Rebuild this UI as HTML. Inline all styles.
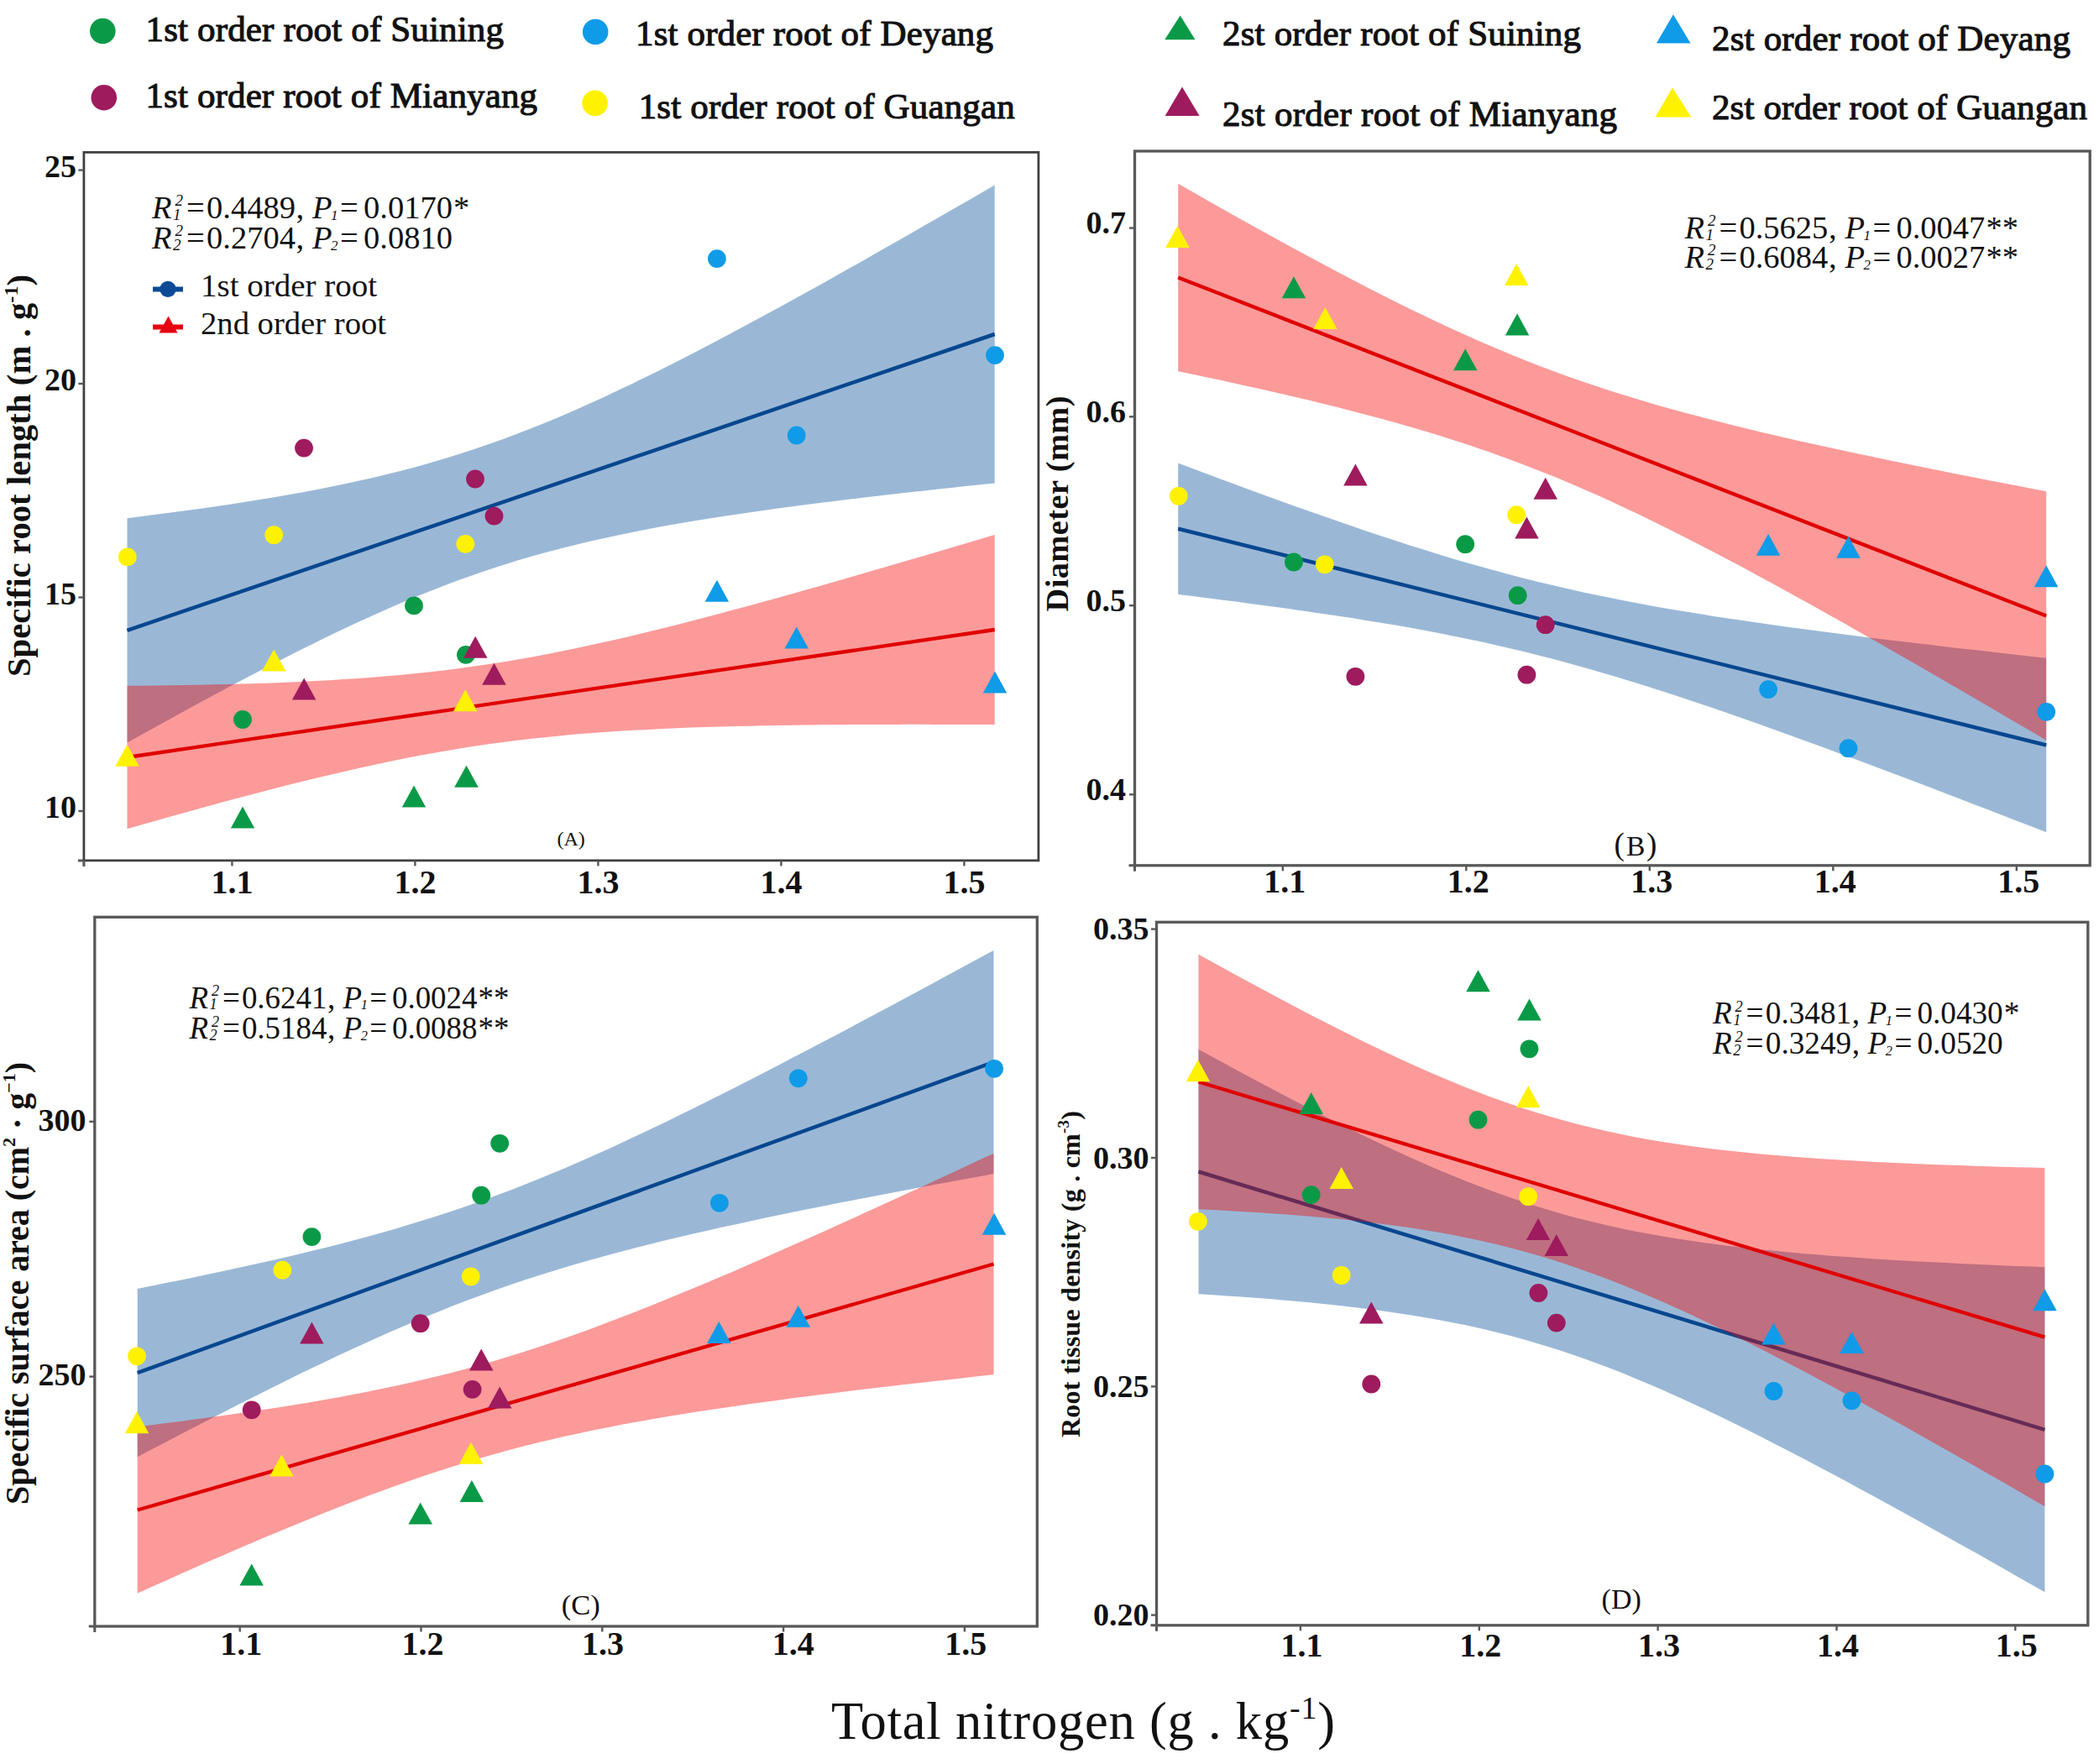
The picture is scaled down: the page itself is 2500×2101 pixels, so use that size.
<!DOCTYPE html>
<html lang="en"><head><meta charset="utf-8"><title>Root traits vs total nitrogen</title>
<style>html,body{margin:0;padding:0;background:#fff}svg{display:block}text{font-family:"Liberation Serif", "DejaVu Serif", serif;fill:#111}</style></head><body>
<svg width="2500" height="2101" viewBox="0 0 2500 2101">
<rect width="2500" height="2101" fill="#fff"/>
<g id="panelA">
<path d="M151.5,617.2 L168.7,615.0 L185.9,612.8 L203.2,610.6 L220.4,608.3 L237.6,605.9 L254.8,603.4 L272.0,600.9 L289.3,598.2 L306.5,595.5 L323.7,592.7 L340.9,589.7 L358.1,586.7 L375.4,583.4 L392.6,580.1 L409.8,576.5 L427.0,572.8 L444.2,568.9 L461.5,564.8 L478.7,560.5 L495.9,555.9 L513.1,551.1 L530.3,546.0 L547.6,540.6 L564.8,535.0 L582.0,529.1 L599.2,523.0 L616.4,516.5 L633.7,509.8 L650.9,502.9 L668.1,495.7 L685.3,488.2 L702.5,480.6 L719.8,472.7 L737.0,464.6 L754.2,456.4 L771.4,448.0 L788.6,439.4 L805.9,430.8 L823.1,421.9 L840.3,413.0 L857.5,404.0 L874.7,394.8 L892.0,385.6 L909.2,376.3 L926.4,366.9 L943.6,357.4 L960.8,347.9 L978.1,338.4 L995.3,328.7 L1012.5,319.1 L1029.7,309.4 L1046.9,299.6 L1064.2,289.8 L1081.4,280.0 L1098.6,270.1 L1115.8,260.2 L1133.0,250.3 L1150.3,240.4 L1167.5,230.4 L1184.7,220.4 L1184.7,575.6 L1167.5,577.3 L1150.3,579.1 L1133.0,581.0 L1115.8,582.8 L1098.6,584.7 L1081.4,586.6 L1064.2,588.5 L1046.9,590.5 L1029.7,592.5 L1012.5,594.6 L995.3,596.7 L978.1,598.8 L960.8,601.0 L943.6,603.2 L926.4,605.6 L909.2,607.9 L892.0,610.4 L874.7,612.9 L857.5,615.5 L840.3,618.3 L823.1,621.1 L805.9,624.0 L788.6,627.1 L771.4,630.3 L754.2,633.7 L737.0,637.2 L719.8,640.9 L702.5,644.8 L685.3,648.9 L668.1,653.2 L650.9,657.8 L633.7,662.6 L616.4,667.6 L599.2,673.0 L582.0,678.6 L564.8,684.4 L547.6,690.6 L530.3,697.0 L513.1,703.7 L495.9,710.6 L478.7,717.8 L461.5,725.3 L444.2,732.9 L427.0,740.8 L409.8,748.8 L392.6,757.0 L375.4,765.4 L358.1,774.0 L340.9,782.7 L323.7,791.5 L306.5,800.4 L289.3,809.5 L272.0,818.6 L254.8,827.8 L237.6,837.1 L220.4,846.5 L203.2,855.9 L185.9,865.5 L168.7,875.0 L151.5,884.6Z" fill="#9ab8d6" fill-opacity="1.0"/>
<line x1="151.5" y1="750.9" x2="1184.7" y2="398.0" stroke="#08478f" stroke-width="4.5"/>
<path d="M151.5,816.8 L168.7,816.7 L185.9,816.5 L203.2,816.3 L220.4,816.0 L237.6,815.7 L254.8,815.3 L272.0,814.9 L289.3,814.5 L306.5,813.9 L323.7,813.4 L340.9,812.7 L358.1,811.9 L375.4,811.1 L392.6,810.2 L409.8,809.1 L427.0,808.0 L444.2,806.7 L461.5,805.3 L478.7,803.7 L495.9,802.0 L513.1,800.2 L530.3,798.2 L547.6,796.0 L564.8,793.6 L582.0,791.1 L599.2,788.4 L616.4,785.5 L633.7,782.4 L650.9,779.2 L668.1,775.8 L685.3,772.3 L702.5,768.6 L719.8,764.8 L737.0,760.9 L754.2,756.9 L771.4,752.7 L788.6,748.5 L805.9,744.2 L823.1,739.8 L840.3,735.3 L857.5,730.7 L874.7,726.1 L892.0,721.5 L909.2,716.8 L926.4,712.0 L943.6,707.2 L960.8,702.3 L978.1,697.5 L995.3,692.5 L1012.5,687.6 L1029.7,682.6 L1046.9,677.6 L1064.2,672.6 L1081.4,667.6 L1098.6,662.5 L1115.8,657.4 L1133.0,652.3 L1150.3,647.2 L1167.5,642.1 L1184.7,636.9 L1184.7,863.1 L1167.5,863.0 L1150.3,862.9 L1133.0,862.9 L1115.8,862.9 L1098.6,862.8 L1081.4,862.8 L1064.2,862.9 L1046.9,862.9 L1029.7,863.0 L1012.5,863.1 L995.3,863.2 L978.1,863.3 L960.8,863.5 L943.6,863.7 L926.4,864.0 L909.2,864.3 L892.0,864.7 L874.7,865.1 L857.5,865.5 L840.3,866.0 L823.1,866.6 L805.9,867.3 L788.6,868.0 L771.4,868.9 L754.2,869.8 L737.0,870.8 L719.8,872.0 L702.5,873.2 L685.3,874.6 L668.1,876.2 L650.9,877.9 L633.7,879.7 L616.4,881.7 L599.2,883.9 L582.0,886.3 L564.8,888.8 L547.6,891.5 L530.3,894.4 L513.1,897.4 L495.9,900.6 L478.7,904.0 L461.5,907.5 L444.2,911.2 L427.0,915.0 L409.8,918.9 L392.6,922.9 L375.4,927.0 L358.1,931.3 L340.9,935.6 L323.7,940.0 L306.5,944.5 L289.3,949.0 L272.0,953.6 L254.8,958.3 L237.6,963.0 L220.4,967.7 L203.2,972.5 L185.9,977.4 L168.7,982.3 L151.5,987.2Z" fill="#f50300" fill-opacity="0.4"/>
<line x1="151.5" y1="902.0" x2="1184.7" y2="750.0" stroke="#e00000" stroke-width="4.3"/>
<circle cx="151.8" cy="663.4" r="10.9" fill="#fff200"/>
<circle cx="326.2" cy="637.2" r="10.9" fill="#fff200"/>
<circle cx="554.3" cy="647.9" r="10.9" fill="#fff200"/>
<circle cx="362.0" cy="533.6" r="10.9" fill="#9e1b5e"/>
<circle cx="566.0" cy="570.5" r="10.9" fill="#9e1b5e"/>
<circle cx="588.5" cy="614.6" r="10.9" fill="#9e1b5e"/>
<circle cx="493.0" cy="721.4" r="10.9" fill="#0a9a47"/>
<circle cx="554.9" cy="779.9" r="10.9" fill="#0a9a47"/>
<circle cx="289.0" cy="857.0" r="10.9" fill="#0a9a47"/>
<circle cx="853.9" cy="308.1" r="10.9" fill="#0f9be8"/>
<circle cx="948.7" cy="518.5" r="10.9" fill="#0f9be8"/>
<circle cx="1185.0" cy="423.1" r="10.9" fill="#0f9be8"/>
<polygon points="326.2,773.6 311.9,799.6 340.4,799.6" fill="#fff200"/>
<polygon points="566.2,757.7 552.0,783.7 580.5,783.7" fill="#9e1b5e"/>
<polygon points="588.5,789.8 574.2,815.8 602.8,815.8" fill="#9e1b5e"/>
<polygon points="362.2,807.4 347.9,833.4 376.4,833.4" fill="#9e1b5e"/>
<polygon points="554.3,821.2 540.0,847.2 568.5,847.2" fill="#fff200"/>
<polygon points="151.5,886.7 137.2,912.7 165.8,912.7" fill="#fff200"/>
<polygon points="555.5,911.7 541.2,937.7 569.8,937.7" fill="#0a9a47"/>
<polygon points="493.0,935.5 478.8,961.5 507.2,961.5" fill="#0a9a47"/>
<polygon points="289.0,960.5 274.8,986.5 303.2,986.5" fill="#0a9a47"/>
<polygon points="853.9,690.7 839.6,716.7 868.1,716.7" fill="#0f9be8"/>
<polygon points="948.7,746.5 934.5,772.5 963.0,772.5" fill="#0f9be8"/>
<polygon points="1185.0,799.5 1170.8,825.5 1199.2,825.5" fill="#0f9be8"/>
<rect x="99.9" y="181.4" width="1137.0" height="843.5" fill="none" stroke="#404040" stroke-width="2.8"/>
<path d="M92.9,1024.9 H99.9 M99.9,1024.9 V1031.9" stroke="#585858" stroke-width="3" fill="none"/>
<line x1="93.4" y1="202.6" x2="99.9" y2="202.6" stroke="#585858" stroke-width="2.4"/>
<text x="91.0" y="210.6" font-size="38" font-weight="bold" text-anchor="end">25</text>
<line x1="93.4" y1="457.0" x2="99.9" y2="457.0" stroke="#585858" stroke-width="2.4"/>
<text x="91.0" y="465.0" font-size="38" font-weight="bold" text-anchor="end">20</text>
<line x1="93.4" y1="711.5" x2="99.9" y2="711.5" stroke="#585858" stroke-width="2.4"/>
<text x="91.0" y="719.5" font-size="38" font-weight="bold" text-anchor="end">15</text>
<line x1="93.4" y1="966.0" x2="99.9" y2="966.0" stroke="#585858" stroke-width="2.4"/>
<text x="91.0" y="974.0" font-size="38" font-weight="bold" text-anchor="end">10</text>
<line x1="276.4" y1="1024.9" x2="276.4" y2="1031.4" stroke="#585858" stroke-width="2.4"/>
<text x="276.4" y="1064.0" font-size="40" font-weight="bold" text-anchor="middle">1.1</text>
<line x1="494.4" y1="1024.9" x2="494.4" y2="1031.4" stroke="#585858" stroke-width="2.4"/>
<text x="494.4" y="1064.0" font-size="40" font-weight="bold" text-anchor="middle">1.2</text>
<line x1="712.4" y1="1024.9" x2="712.4" y2="1031.4" stroke="#585858" stroke-width="2.4"/>
<text x="712.4" y="1064.0" font-size="40" font-weight="bold" text-anchor="middle">1.3</text>
<line x1="930.4" y1="1024.9" x2="930.4" y2="1031.4" stroke="#585858" stroke-width="2.4"/>
<text x="930.4" y="1064.0" font-size="40" font-weight="bold" text-anchor="middle">1.4</text>
<line x1="1148.4" y1="1024.9" x2="1148.4" y2="1031.4" stroke="#585858" stroke-width="2.4"/>
<text x="1148.4" y="1064.0" font-size="40" font-weight="bold" text-anchor="middle">1.5</text>
</g>
<g id="panelB">
<path d="M1403.2,551.6 L1420.4,558.1 L1437.7,564.6 L1454.9,571.0 L1472.1,577.3 L1489.4,583.7 L1506.6,590.0 L1523.8,596.2 L1541.1,602.4 L1558.3,608.6 L1575.5,614.6 L1592.8,620.6 L1610.0,626.6 L1627.2,632.4 L1644.5,638.2 L1661.7,643.8 L1678.9,649.4 L1696.2,654.8 L1713.4,660.2 L1730.6,665.4 L1747.9,670.4 L1765.1,675.3 L1782.3,680.1 L1799.6,684.7 L1816.8,689.2 L1834.0,693.5 L1851.3,697.6 L1868.5,701.6 L1885.7,705.4 L1903.0,709.0 L1920.2,712.6 L1937.4,716.0 L1954.7,719.2 L1971.9,722.4 L1989.1,725.4 L2006.4,728.3 L2023.6,731.1 L2040.8,733.9 L2058.1,736.5 L2075.3,739.1 L2092.5,741.6 L2109.8,744.0 L2127.0,746.4 L2144.2,748.8 L2161.5,751.1 L2178.7,753.3 L2195.9,755.5 L2213.2,757.7 L2230.4,759.9 L2247.6,762.0 L2264.9,764.1 L2282.1,766.1 L2299.3,768.1 L2316.6,770.2 L2333.8,772.2 L2351.0,774.1 L2368.3,776.1 L2385.5,778.0 L2402.7,779.9 L2420.0,781.9 L2437.2,783.8 L2437.2,991.2 L2420.0,984.6 L2402.7,977.9 L2385.5,971.2 L2368.3,964.6 L2351.0,957.9 L2333.8,951.3 L2316.6,944.7 L2299.3,938.1 L2282.1,931.6 L2264.9,925.0 L2247.6,918.5 L2230.4,912.1 L2213.2,905.6 L2195.9,899.2 L2178.7,892.8 L2161.5,886.5 L2144.2,880.2 L2127.0,873.9 L2109.8,867.7 L2092.5,861.6 L2075.3,855.5 L2058.1,849.5 L2040.8,843.6 L2023.6,837.7 L2006.4,832.0 L1989.1,826.3 L1971.9,820.7 L1954.7,815.3 L1937.4,809.9 L1920.2,804.7 L1903.0,799.7 L1885.7,794.7 L1868.5,790.0 L1851.3,785.3 L1834.0,780.9 L1816.8,776.6 L1799.6,772.5 L1782.3,768.5 L1765.1,764.6 L1747.9,761.0 L1730.6,757.4 L1713.4,754.0 L1696.2,750.8 L1678.9,747.6 L1661.7,744.6 L1644.5,741.7 L1627.2,738.9 L1610.0,736.1 L1592.8,733.5 L1575.5,730.9 L1558.3,728.4 L1541.1,725.9 L1523.8,723.5 L1506.6,721.2 L1489.4,718.9 L1472.1,716.6 L1454.9,714.4 L1437.7,712.2 L1420.4,710.1 L1403.2,708.0Z" fill="#9ab8d6" fill-opacity="1.0"/>
<line x1="1403.2" y1="629.8" x2="2437.2" y2="887.5" stroke="#08478f" stroke-width="4.5"/>
<path d="M1403.2,218.8 L1420.4,228.6 L1437.7,238.4 L1454.9,248.2 L1472.1,257.9 L1489.4,267.5 L1506.6,277.1 L1523.8,286.6 L1541.1,296.0 L1558.3,305.3 L1575.5,314.6 L1592.8,323.8 L1610.0,332.8 L1627.2,341.8 L1644.5,350.6 L1661.7,359.2 L1678.9,367.8 L1696.2,376.1 L1713.4,384.3 L1730.6,392.3 L1747.9,400.1 L1765.1,407.7 L1782.3,415.1 L1799.6,422.3 L1816.8,429.2 L1834.0,435.9 L1851.3,442.4 L1868.5,448.7 L1885.7,454.7 L1903.0,460.5 L1920.2,466.2 L1937.4,471.6 L1954.7,476.8 L1971.9,481.9 L1989.1,486.8 L2006.4,491.5 L2023.6,496.1 L2040.8,500.6 L2058.1,505.0 L2075.3,509.3 L2092.5,513.4 L2109.8,517.5 L2127.0,521.5 L2144.2,525.4 L2161.5,529.3 L2178.7,533.1 L2195.9,536.8 L2213.2,540.5 L2230.4,544.1 L2247.6,547.7 L2264.9,551.3 L2282.1,554.8 L2299.3,558.3 L2316.6,561.8 L2333.8,565.2 L2351.0,568.6 L2368.3,572.0 L2385.5,575.3 L2402.7,578.6 L2420.0,582.0 L2437.2,585.2 L2437.2,881.8 L2420.0,871.6 L2402.7,861.5 L2385.5,851.4 L2368.3,841.3 L2351.0,831.2 L2333.8,821.2 L2316.6,811.2 L2299.3,801.2 L2282.1,791.3 L2264.9,781.4 L2247.6,771.5 L2230.4,761.7 L2213.2,751.9 L2195.9,742.1 L2178.7,732.4 L2161.5,722.8 L2144.2,713.2 L2127.0,703.7 L2109.8,694.3 L2092.5,684.9 L2075.3,675.6 L2058.1,666.5 L2040.8,657.4 L2023.6,648.5 L2006.4,639.7 L1989.1,631.0 L1971.9,622.4 L1954.7,614.1 L1937.4,605.9 L1920.2,597.8 L1903.0,590.0 L1885.7,582.4 L1868.5,575.0 L1851.3,567.8 L1834.0,560.9 L1816.8,554.2 L1799.6,547.7 L1782.3,541.4 L1765.1,535.4 L1747.9,529.5 L1730.6,523.9 L1713.4,518.5 L1696.2,513.2 L1678.9,508.2 L1661.7,503.3 L1644.5,498.5 L1627.2,493.9 L1610.0,489.4 L1592.8,485.0 L1575.5,480.7 L1558.3,476.6 L1541.1,472.5 L1523.8,468.5 L1506.6,464.5 L1489.4,460.7 L1472.1,456.9 L1454.9,453.1 L1437.7,449.5 L1420.4,445.8 L1403.2,442.2Z" fill="#f50300" fill-opacity="0.4"/>
<line x1="1403.2" y1="330.5" x2="2437.2" y2="733.5" stroke="#e00000" stroke-width="4.3"/>
<circle cx="1403.7" cy="590.8" r="10.9" fill="#fff200"/>
<circle cx="1806.2" cy="613.2" r="10.9" fill="#fff200"/>
<circle cx="1577.8" cy="672.3" r="10.9" fill="#fff200"/>
<circle cx="1540.9" cy="669.5" r="10.9" fill="#0a9a47"/>
<circle cx="1745.2" cy="648.2" r="10.9" fill="#0a9a47"/>
<circle cx="1807.7" cy="709.2" r="10.9" fill="#0a9a47"/>
<circle cx="1840.7" cy="744.2" r="10.9" fill="#9e1b5e"/>
<circle cx="1614.4" cy="805.8" r="10.9" fill="#9e1b5e"/>
<circle cx="1818.4" cy="803.7" r="10.9" fill="#9e1b5e"/>
<circle cx="2106.1" cy="821.1" r="10.9" fill="#0f9be8"/>
<circle cx="2201.5" cy="891.2" r="10.9" fill="#0f9be8"/>
<circle cx="2437.2" cy="847.9" r="10.9" fill="#0f9be8"/>
<polygon points="1402.5,269.0 1388.2,295.0 1416.8,295.0" fill="#fff200"/>
<polygon points="1540.9,329.3 1526.7,355.3 1555.2,355.3" fill="#0a9a47"/>
<polygon points="1578.4,365.9 1564.2,391.9 1592.7,391.9" fill="#fff200"/>
<polygon points="1806.2,314.1 1792.0,340.1 1820.5,340.1" fill="#fff200"/>
<polygon points="1807.1,373.5 1792.8,399.5 1821.3,399.5" fill="#0a9a47"/>
<polygon points="1745.2,415.3 1731.0,441.3 1759.5,441.3" fill="#0a9a47"/>
<polygon points="1614.4,552.5 1600.2,578.5 1628.7,578.5" fill="#9e1b5e"/>
<polygon points="1840.7,568.7 1826.5,594.7 1855.0,594.7" fill="#9e1b5e"/>
<polygon points="1818.4,615.5 1804.2,641.5 1832.7,641.5" fill="#9e1b5e"/>
<polygon points="2106.1,635.8 2091.8,661.8 2120.3,661.8" fill="#0f9be8"/>
<polygon points="2201.5,638.8 2187.2,664.8 2215.8,664.8" fill="#0f9be8"/>
<polygon points="2437.2,673.3 2422.9,699.3 2451.4,699.3" fill="#0f9be8"/>
<rect x="1351.5" y="180.0" width="1137.7" height="850.8" fill="none" stroke="#585858" stroke-width="3.3"/>
<path d="M1344.5,1030.8 H1351.5 M1351.5,1030.8 V1037.8" stroke="#585858" stroke-width="3" fill="none"/>
<line x1="1345.0" y1="271.6" x2="1351.5" y2="271.6" stroke="#585858" stroke-width="2.4"/>
<text x="1341.0" y="278.1" font-size="38" font-weight="bold" text-anchor="end">0.7</text>
<line x1="1345.0" y1="496.3" x2="1351.5" y2="496.3" stroke="#585858" stroke-width="2.4"/>
<text x="1341.0" y="502.8" font-size="38" font-weight="bold" text-anchor="end">0.6</text>
<line x1="1345.0" y1="721.2" x2="1351.5" y2="721.2" stroke="#585858" stroke-width="2.4"/>
<text x="1341.0" y="727.7" font-size="38" font-weight="bold" text-anchor="end">0.5</text>
<line x1="1345.0" y1="946.3" x2="1351.5" y2="946.3" stroke="#585858" stroke-width="2.4"/>
<text x="1341.0" y="952.8" font-size="38" font-weight="bold" text-anchor="end">0.4</text>
<line x1="1527.8" y1="1030.8" x2="1527.8" y2="1037.3" stroke="#585858" stroke-width="2.4"/>
<text x="1530.3" y="1063.3" font-size="40" font-weight="bold" text-anchor="middle">1.1</text>
<line x1="1746.3" y1="1030.8" x2="1746.3" y2="1037.3" stroke="#585858" stroke-width="2.4"/>
<text x="1748.8" y="1063.3" font-size="40" font-weight="bold" text-anchor="middle">1.2</text>
<line x1="1964.8" y1="1030.8" x2="1964.8" y2="1037.3" stroke="#585858" stroke-width="2.4"/>
<text x="1967.3" y="1063.3" font-size="40" font-weight="bold" text-anchor="middle">1.3</text>
<line x1="2183.3" y1="1030.8" x2="2183.3" y2="1037.3" stroke="#585858" stroke-width="2.4"/>
<text x="2185.8" y="1063.3" font-size="40" font-weight="bold" text-anchor="middle">1.4</text>
<line x1="2401.8" y1="1030.8" x2="2401.8" y2="1037.3" stroke="#585858" stroke-width="2.4"/>
<text x="2404.3" y="1063.3" font-size="40" font-weight="bold" text-anchor="middle">1.5</text>
</g>
<g id="panelC">
<path d="M163.7,1534.9 L180.7,1531.5 L197.7,1528.1 L214.7,1524.7 L231.7,1521.2 L248.7,1517.6 L265.7,1514.0 L282.7,1510.3 L299.7,1506.6 L316.7,1502.8 L333.7,1498.9 L350.7,1494.9 L367.7,1490.8 L384.7,1486.7 L401.7,1482.4 L418.6,1478.0 L435.6,1473.4 L452.6,1468.7 L469.6,1463.9 L486.6,1458.8 L503.6,1453.6 L520.6,1448.3 L537.6,1442.7 L554.6,1436.9 L571.6,1430.9 L588.6,1424.8 L605.6,1418.4 L622.6,1411.8 L639.6,1405.0 L656.6,1398.0 L673.6,1390.9 L690.6,1383.5 L707.6,1376.0 L724.6,1368.4 L741.6,1360.6 L758.6,1352.6 L775.6,1344.6 L792.6,1336.4 L809.6,1328.1 L826.6,1319.8 L843.6,1311.3 L860.6,1302.8 L877.6,1294.2 L894.6,1285.5 L911.6,1276.8 L928.5,1268.0 L945.5,1259.1 L962.5,1250.3 L979.5,1241.3 L996.5,1232.4 L1013.5,1223.4 L1030.5,1214.3 L1047.5,1205.3 L1064.5,1196.2 L1081.5,1187.0 L1098.5,1177.9 L1115.5,1168.7 L1132.5,1159.5 L1149.5,1150.3 L1166.5,1141.1 L1183.5,1131.9 L1183.5,1398.1 L1166.5,1401.2 L1149.5,1404.3 L1132.5,1407.5 L1115.5,1410.6 L1098.5,1413.8 L1081.5,1417.0 L1064.5,1420.2 L1047.5,1423.4 L1030.5,1426.7 L1013.5,1430.0 L996.5,1433.3 L979.5,1436.7 L962.5,1440.1 L945.5,1443.6 L928.5,1447.1 L911.6,1450.6 L894.6,1454.2 L877.6,1457.9 L860.6,1461.6 L843.6,1465.4 L826.6,1469.3 L809.6,1473.3 L792.6,1477.3 L775.6,1481.5 L758.6,1485.8 L741.6,1490.2 L724.6,1494.7 L707.6,1499.4 L690.6,1504.2 L673.6,1509.2 L656.6,1514.4 L639.6,1519.8 L622.6,1525.3 L605.6,1531.1 L588.6,1537.0 L571.6,1543.2 L554.6,1549.5 L537.6,1556.1 L520.6,1562.9 L503.6,1569.8 L486.6,1577.0 L469.6,1584.3 L452.6,1591.8 L435.6,1599.4 L418.6,1607.2 L401.7,1615.1 L384.7,1623.2 L367.7,1631.3 L350.7,1639.6 L333.7,1647.9 L316.7,1656.4 L299.7,1664.9 L282.7,1673.5 L265.7,1682.2 L248.7,1690.9 L231.7,1699.7 L214.7,1708.5 L197.7,1717.4 L180.7,1726.3 L163.7,1735.3Z" fill="#9ab8d6" fill-opacity="1.0"/>
<line x1="163.7" y1="1635.1" x2="1183.5" y2="1265.0" stroke="#08478f" stroke-width="4.5"/>
<path d="M163.7,1699.3 L180.7,1697.2 L197.7,1695.1 L214.7,1692.9 L231.7,1690.6 L248.7,1688.3 L265.7,1686.0 L282.7,1683.6 L299.7,1681.1 L316.7,1678.5 L333.7,1675.9 L350.7,1673.2 L367.7,1670.4 L384.7,1667.5 L401.7,1664.4 L418.6,1661.3 L435.6,1658.0 L452.6,1654.6 L469.6,1651.0 L486.6,1647.3 L503.6,1643.3 L520.6,1639.2 L537.6,1634.9 L554.6,1630.4 L571.6,1625.8 L588.6,1620.9 L605.6,1615.8 L622.6,1610.5 L639.6,1605.0 L656.6,1599.3 L673.6,1593.4 L690.6,1587.4 L707.6,1581.2 L724.6,1574.8 L741.6,1568.3 L758.6,1561.7 L775.6,1554.9 L792.6,1548.1 L809.6,1541.1 L826.6,1534.0 L843.6,1526.9 L860.6,1519.7 L877.6,1512.4 L894.6,1505.0 L911.6,1497.6 L928.5,1490.1 L945.5,1482.6 L962.5,1475.0 L979.5,1467.4 L996.5,1459.7 L1013.5,1452.1 L1030.5,1444.3 L1047.5,1436.6 L1064.5,1428.8 L1081.5,1421.0 L1098.5,1413.2 L1115.5,1405.3 L1132.5,1397.4 L1149.5,1389.6 L1166.5,1381.6 L1183.5,1373.7 L1183.5,1637.3 L1166.5,1639.1 L1149.5,1641.0 L1132.5,1642.9 L1115.5,1644.7 L1098.5,1646.7 L1081.5,1648.6 L1064.5,1650.6 L1047.5,1652.6 L1030.5,1654.6 L1013.5,1656.6 L996.5,1658.7 L979.5,1660.8 L962.5,1663.0 L945.5,1665.1 L928.5,1667.4 L911.6,1669.7 L894.6,1672.0 L877.6,1674.4 L860.6,1676.9 L843.6,1679.4 L826.6,1682.1 L809.6,1684.8 L792.6,1687.6 L775.6,1690.5 L758.6,1693.5 L741.6,1696.6 L724.6,1699.9 L707.6,1703.3 L690.6,1706.9 L673.6,1710.6 L656.6,1714.5 L639.6,1718.6 L622.6,1722.8 L605.6,1727.3 L588.6,1732.0 L571.6,1736.8 L554.6,1741.9 L537.6,1747.2 L520.6,1752.7 L503.6,1758.3 L486.6,1764.2 L469.6,1770.2 L452.6,1776.4 L435.6,1782.7 L418.6,1789.2 L401.7,1795.8 L384.7,1802.6 L367.7,1809.4 L350.7,1816.4 L333.7,1823.4 L316.7,1830.6 L299.7,1837.8 L282.7,1845.1 L265.7,1852.4 L248.7,1859.8 L231.7,1867.3 L214.7,1874.8 L197.7,1882.4 L180.7,1890.0 L163.7,1897.7Z" fill="#f50300" fill-opacity="0.4"/>
<line x1="163.7" y1="1798.5" x2="1183.5" y2="1505.5" stroke="#e00000" stroke-width="4.3"/>
<circle cx="595.2" cy="1361.8" r="10.9" fill="#0a9a47"/>
<circle cx="573.2" cy="1423.7" r="10.9" fill="#0a9a47"/>
<circle cx="371.4" cy="1473.1" r="10.9" fill="#0a9a47"/>
<circle cx="336.3" cy="1512.7" r="10.9" fill="#fff200"/>
<circle cx="560.7" cy="1520.5" r="10.9" fill="#fff200"/>
<circle cx="163.1" cy="1615.3" r="10.9" fill="#fff200"/>
<circle cx="500.7" cy="1576.2" r="10.9" fill="#9e1b5e"/>
<circle cx="562.6" cy="1654.9" r="10.9" fill="#9e1b5e"/>
<circle cx="299.7" cy="1679.3" r="10.9" fill="#9e1b5e"/>
<circle cx="950.8" cy="1284.3" r="10.9" fill="#0f9be8"/>
<circle cx="856.9" cy="1432.8" r="10.9" fill="#0f9be8"/>
<circle cx="1184.1" cy="1272.8" r="10.9" fill="#0f9be8"/>
<polygon points="371.4,1574.5 357.1,1600.5 385.6,1600.5" fill="#9e1b5e"/>
<polygon points="573.2,1606.5 559.0,1632.5 587.5,1632.5" fill="#9e1b5e"/>
<polygon points="595.2,1651.6 581.0,1677.6 609.5,1677.6" fill="#9e1b5e"/>
<polygon points="163.1,1681.2 148.8,1707.2 177.3,1707.2" fill="#fff200"/>
<polygon points="335.4,1732.4 321.1,1758.4 349.6,1758.4" fill="#fff200"/>
<polygon points="561.0,1717.8 546.8,1743.8 575.2,1743.8" fill="#fff200"/>
<polygon points="561.9,1762.9 547.6,1788.9 576.1,1788.9" fill="#0a9a47"/>
<polygon points="500.7,1789.5 486.4,1815.5 515.0,1815.5" fill="#0a9a47"/>
<polygon points="299.7,1862.6 285.4,1888.6 313.9,1888.6" fill="#0a9a47"/>
<polygon points="856.3,1573.9 842.0,1599.9 870.5,1599.9" fill="#0f9be8"/>
<polygon points="950.8,1554.7 936.5,1580.7 965.0,1580.7" fill="#0f9be8"/>
<polygon points="1184.1,1444.8 1169.8,1470.8 1198.3,1470.8" fill="#0f9be8"/>
<rect x="112.8" y="1092.3" width="1122.5" height="844.7" fill="none" stroke="#585858" stroke-width="3.3"/>
<path d="M105.8,1937.0 H112.8 M112.8,1937.0 V1944.0" stroke="#585858" stroke-width="3" fill="none"/>
<line x1="106.3" y1="1335.9" x2="112.8" y2="1335.9" stroke="#585858" stroke-width="2.4"/>
<text x="102.5" y="1346.7" font-size="38" font-weight="bold" text-anchor="end">300</text>
<line x1="106.3" y1="1639.6" x2="112.8" y2="1639.6" stroke="#585858" stroke-width="2.4"/>
<text x="102.5" y="1650.4" font-size="38" font-weight="bold" text-anchor="end">250</text>
<line x1="285.7" y1="1937.0" x2="285.7" y2="1943.5" stroke="#585858" stroke-width="2.4"/>
<text x="287.2" y="1971.4" font-size="40" font-weight="bold" text-anchor="middle">1.1</text>
<line x1="501.5" y1="1937.0" x2="501.5" y2="1943.5" stroke="#585858" stroke-width="2.4"/>
<text x="503.6" y="1971.4" font-size="40" font-weight="bold" text-anchor="middle">1.2</text>
<line x1="717.3" y1="1937.0" x2="717.3" y2="1943.5" stroke="#585858" stroke-width="2.4"/>
<text x="718.0" y="1971.4" font-size="40" font-weight="bold" text-anchor="middle">1.3</text>
<line x1="933.1" y1="1937.0" x2="933.1" y2="1943.5" stroke="#585858" stroke-width="2.4"/>
<text x="944.8" y="1971.4" font-size="40" font-weight="bold" text-anchor="middle">1.4</text>
<line x1="1148.9" y1="1937.0" x2="1148.9" y2="1943.5" stroke="#585858" stroke-width="2.4"/>
<text x="1150.3" y="1971.4" font-size="40" font-weight="bold" text-anchor="middle">1.5</text>
</g>
<g id="panelD">
<path d="M1427.5,1249.8 L1444.3,1259.0 L1461.1,1268.1 L1477.9,1277.2 L1494.7,1286.2 L1511.5,1295.1 L1528.3,1304.0 L1545.1,1312.7 L1561.9,1321.4 L1578.7,1329.9 L1595.5,1338.4 L1612.3,1346.7 L1629.1,1354.9 L1645.9,1362.9 L1662.7,1370.8 L1679.5,1378.4 L1696.3,1385.9 L1713.1,1393.2 L1729.9,1400.2 L1746.7,1407.0 L1763.5,1413.6 L1780.3,1419.8 L1797.1,1425.8 L1813.9,1431.5 L1830.7,1436.9 L1847.5,1442.1 L1864.3,1446.9 L1881.1,1451.4 L1897.9,1455.6 L1914.7,1459.6 L1931.5,1463.2 L1948.2,1466.7 L1965.0,1469.8 L1981.8,1472.8 L1998.6,1475.5 L2015.4,1478.1 L2032.2,1480.5 L2049.0,1482.7 L2065.8,1484.7 L2082.6,1486.6 L2099.4,1488.4 L2116.2,1490.1 L2133.0,1491.7 L2149.8,1493.2 L2166.6,1494.6 L2183.4,1495.9 L2200.2,1497.1 L2217.0,1498.3 L2233.8,1499.4 L2250.6,1500.4 L2267.4,1501.4 L2284.2,1502.4 L2301.0,1503.3 L2317.8,1504.1 L2334.6,1504.9 L2351.4,1505.7 L2368.2,1506.5 L2385.0,1507.2 L2401.8,1507.9 L2418.6,1508.6 L2435.4,1509.3 L2435.4,1896.3 L2418.6,1886.8 L2401.8,1877.2 L2385.0,1867.6 L2368.2,1858.1 L2351.4,1848.6 L2334.6,1839.2 L2317.8,1829.8 L2301.0,1820.4 L2284.2,1811.1 L2267.4,1801.8 L2250.6,1792.5 L2233.8,1783.3 L2217.0,1774.2 L2200.2,1765.1 L2183.4,1756.1 L2166.6,1747.2 L2149.8,1738.3 L2133.0,1729.5 L2116.2,1720.9 L2099.4,1712.3 L2082.6,1703.8 L2065.8,1695.5 L2049.0,1687.3 L2032.2,1679.3 L2015.4,1671.4 L1998.6,1663.7 L1981.8,1656.2 L1965.0,1649.0 L1948.2,1641.9 L1931.5,1635.1 L1914.7,1628.5 L1897.9,1622.2 L1881.1,1616.2 L1864.3,1610.5 L1847.5,1605.0 L1830.7,1599.9 L1813.9,1595.1 L1797.1,1590.5 L1780.3,1586.3 L1763.5,1582.3 L1746.7,1578.6 L1729.9,1575.2 L1713.1,1572.0 L1696.3,1569.0 L1679.5,1566.2 L1662.7,1563.7 L1645.9,1561.3 L1629.1,1559.0 L1612.3,1557.0 L1595.5,1555.0 L1578.7,1553.2 L1561.9,1551.6 L1545.1,1550.0 L1528.3,1548.5 L1511.5,1547.1 L1494.7,1545.8 L1477.9,1544.5 L1461.1,1543.4 L1444.3,1542.3 L1427.5,1541.2Z" fill="#9ab8d6" fill-opacity="1.0"/>
<line x1="1427.5" y1="1395.5" x2="2435.4" y2="1702.8" stroke="#08478f" stroke-width="4.5"/>
<path d="M1427.5,1136.7 L1444.3,1146.0 L1461.1,1155.3 L1477.9,1164.5 L1494.7,1173.6 L1511.5,1182.6 L1528.3,1191.6 L1545.1,1200.4 L1561.9,1209.2 L1578.7,1217.8 L1595.5,1226.3 L1612.3,1234.7 L1629.1,1243.0 L1645.9,1251.1 L1662.7,1259.0 L1679.5,1266.7 L1696.3,1274.2 L1713.1,1281.6 L1729.9,1288.6 L1746.7,1295.4 L1763.5,1302.0 L1780.3,1308.3 L1797.1,1314.2 L1813.9,1319.9 L1830.7,1325.3 L1847.5,1330.3 L1864.3,1335.1 L1881.1,1339.5 L1897.9,1343.6 L1914.7,1347.5 L1931.5,1351.1 L1948.2,1354.4 L1965.0,1357.4 L1981.8,1360.2 L1998.6,1362.8 L2015.4,1365.2 L2032.2,1367.4 L2049.0,1369.4 L2065.8,1371.3 L2082.6,1373.1 L2099.4,1374.7 L2116.2,1376.1 L2133.0,1377.5 L2149.8,1378.8 L2166.6,1380.0 L2183.4,1381.0 L2200.2,1382.1 L2217.0,1383.0 L2233.8,1383.9 L2250.6,1384.7 L2267.4,1385.5 L2284.2,1386.2 L2301.0,1386.9 L2317.8,1387.5 L2334.6,1388.1 L2351.4,1388.7 L2368.2,1389.2 L2385.0,1389.7 L2401.8,1390.2 L2418.6,1390.6 L2435.4,1391.0 L2435.4,1794.2 L2418.6,1784.5 L2401.8,1774.8 L2385.0,1765.1 L2368.2,1755.5 L2351.4,1745.8 L2334.6,1736.3 L2317.8,1726.7 L2301.0,1717.2 L2284.2,1707.8 L2267.4,1698.3 L2250.6,1689.0 L2233.8,1679.7 L2217.0,1670.4 L2200.2,1661.2 L2183.4,1652.1 L2166.6,1643.1 L2149.8,1634.1 L2133.0,1625.2 L2116.2,1616.5 L2099.4,1607.8 L2082.6,1599.3 L2065.8,1590.9 L2049.0,1582.6 L2032.2,1574.5 L2015.4,1566.6 L1998.6,1558.8 L1981.8,1551.3 L1965.0,1544.0 L1948.2,1536.9 L1931.5,1530.0 L1914.7,1523.5 L1897.9,1517.2 L1881.1,1511.2 L1864.3,1505.5 L1847.5,1500.1 L1830.7,1495.0 L1813.9,1490.2 L1797.1,1485.8 L1780.3,1481.6 L1763.5,1477.7 L1746.7,1474.2 L1729.9,1470.8 L1713.1,1467.8 L1696.3,1464.9 L1679.5,1462.3 L1662.7,1459.9 L1645.9,1457.7 L1629.1,1455.7 L1612.3,1453.8 L1595.5,1452.0 L1578.7,1450.4 L1561.9,1448.9 L1545.1,1447.5 L1528.3,1446.3 L1511.5,1445.1 L1494.7,1444.0 L1477.9,1442.9 L1461.1,1442.0 L1444.3,1441.1 L1427.5,1440.3Z" fill="#f50300" fill-opacity="0.4"/>
<line x1="1427.5" y1="1288.5" x2="2435.4" y2="1592.6" stroke="#e00000" stroke-width="4.3"/>
<circle cx="1821.5" cy="1249.3" r="10.9" fill="#0a9a47"/>
<circle cx="1760.5" cy="1333.7" r="10.9" fill="#0a9a47"/>
<circle cx="1561.7" cy="1423.1" r="10.9" fill="#0a9a47"/>
<circle cx="1820.2" cy="1425.2" r="10.9" fill="#fff200"/>
<circle cx="1426.9" cy="1454.8" r="10.9" fill="#fff200"/>
<circle cx="1597.7" cy="1519.0" r="10.9" fill="#fff200"/>
<circle cx="1832.4" cy="1540.0" r="10.9" fill="#9e1b5e"/>
<circle cx="1853.8" cy="1575.6" r="10.9" fill="#9e1b5e"/>
<circle cx="1633.3" cy="1648.5" r="10.9" fill="#9e1b5e"/>
<circle cx="2112.5" cy="1657.0" r="10.9" fill="#0f9be8"/>
<circle cx="2205.5" cy="1668.3" r="10.9" fill="#0f9be8"/>
<circle cx="2435.4" cy="1755.5" r="10.9" fill="#0f9be8"/>
<polygon points="1426.9,1262.2 1412.7,1288.2 1441.2,1288.2" fill="#fff200"/>
<polygon points="1561.7,1300.9 1547.5,1326.9 1576.0,1326.9" fill="#0a9a47"/>
<polygon points="1760.5,1155.2 1746.2,1181.2 1774.8,1181.2" fill="#0a9a47"/>
<polygon points="1821.5,1189.6 1807.2,1215.6 1835.8,1215.6" fill="#0a9a47"/>
<polygon points="1820.2,1293.3 1806.0,1319.3 1834.5,1319.3" fill="#fff200"/>
<polygon points="1597.7,1390.0 1583.5,1416.0 1612.0,1416.0" fill="#fff200"/>
<polygon points="1832.1,1450.9 1817.8,1476.9 1846.3,1476.9" fill="#9e1b5e"/>
<polygon points="1853.8,1470.1 1839.5,1496.1 1868.0,1496.1" fill="#9e1b5e"/>
<polygon points="1633.3,1550.4 1619.0,1576.4 1647.5,1576.4" fill="#9e1b5e"/>
<polygon points="2112.5,1575.4 2098.2,1601.4 2126.8,1601.4" fill="#0f9be8"/>
<polygon points="2205.5,1586.1 2191.2,1612.1 2219.8,1612.1" fill="#0f9be8"/>
<polygon points="2435.4,1535.2 2421.2,1561.2 2449.7,1561.2" fill="#0f9be8"/>
<rect x="1377.5" y="1098.3" width="1109.3" height="837.5" fill="none" stroke="#585858" stroke-width="3.3"/>
<path d="M1370.5,1935.8 H1377.5 M1377.5,1935.8 V1942.8" stroke="#585858" stroke-width="3" fill="none"/>
<line x1="1371.0" y1="1106.6" x2="1377.5" y2="1106.6" stroke="#585858" stroke-width="2.4"/>
<text x="1368.5" y="1119.4" font-size="38" font-weight="bold" text-anchor="end">0.35</text>
<line x1="1371.0" y1="1379.0" x2="1377.5" y2="1379.0" stroke="#585858" stroke-width="2.4"/>
<text x="1368.5" y="1391.8" font-size="38" font-weight="bold" text-anchor="end">0.30</text>
<line x1="1371.0" y1="1651.4" x2="1377.5" y2="1651.4" stroke="#585858" stroke-width="2.4"/>
<text x="1368.5" y="1664.2" font-size="38" font-weight="bold" text-anchor="end">0.25</text>
<line x1="1371.0" y1="1923.6" x2="1377.5" y2="1923.6" stroke="#585858" stroke-width="2.4"/>
<text x="1368.5" y="1936.4" font-size="38" font-weight="bold" text-anchor="end">0.20</text>
<line x1="1548.9" y1="1935.8" x2="1548.9" y2="1942.3" stroke="#585858" stroke-width="2.4"/>
<text x="1550.4" y="1973.4" font-size="40" font-weight="bold" text-anchor="middle">1.1</text>
<line x1="1761.8" y1="1935.8" x2="1761.8" y2="1942.3" stroke="#585858" stroke-width="2.4"/>
<text x="1763.2" y="1973.4" font-size="40" font-weight="bold" text-anchor="middle">1.2</text>
<line x1="1974.6" y1="1935.8" x2="1974.6" y2="1942.3" stroke="#585858" stroke-width="2.4"/>
<text x="1976.1" y="1973.4" font-size="40" font-weight="bold" text-anchor="middle">1.3</text>
<line x1="2187.5" y1="1935.8" x2="2187.5" y2="1942.3" stroke="#585858" stroke-width="2.4"/>
<text x="2189.0" y="1973.4" font-size="40" font-weight="bold" text-anchor="middle">1.4</text>
<line x1="2400.3" y1="1935.8" x2="2400.3" y2="1942.3" stroke="#585858" stroke-width="2.4"/>
<text x="2401.8" y="1973.4" font-size="40" font-weight="bold" text-anchor="middle">1.5</text>
</g>
<g id="stats">
<text x="181.0" y="260.0" font-size="38.5" font-style="italic">R</text>
<text x="208.5" y="245.0" font-size="19.0" font-style="italic">2</text>
<text x="206.0" y="262.0" font-size="19.0" font-style="italic">1</text>
<text x="222.0" y="260.0" font-size="38.5" >=</text>
<text x="246.0" y="260.0" font-size="38.5" >0.4489</text>
<text x="352.5" y="260.0" font-size="38.5" >,</text>
<text x="372.0" y="260.0" font-size="38.5" font-style="italic">P</text>
<text x="394.0" y="262.0" font-size="17.0" font-style="italic">1</text>
<text x="405.0" y="260.0" font-size="38.5" >=</text>
<text x="433.0" y="260.0" font-size="38.5" >0.0170</text>
<text x="540.0" y="260.0" font-size="38.5" >*</text>
<text x="181.0" y="296.4" font-size="38.5" font-style="italic">R</text>
<text x="208.5" y="281.4" font-size="19.0" font-style="italic">2</text>
<text x="206.0" y="298.4" font-size="19.0" font-style="italic">2</text>
<text x="222.0" y="296.4" font-size="38.5" >=</text>
<text x="246.0" y="296.4" font-size="38.5" >0.2704</text>
<text x="352.5" y="296.4" font-size="38.5" >,</text>
<text x="372.0" y="296.4" font-size="38.5" font-style="italic">P</text>
<text x="394.0" y="298.4" font-size="17.0" font-style="italic">2</text>
<text x="405.0" y="296.4" font-size="38.5" >=</text>
<text x="433.0" y="296.4" font-size="38.5" >0.0810</text>
<text x="2006.4" y="283.5" font-size="38.5" font-style="italic">R</text>
<text x="2033.9" y="268.5" font-size="19.0" font-style="italic">2</text>
<text x="2031.4" y="285.5" font-size="19.0" font-style="italic">1</text>
<text x="2047.4" y="283.5" font-size="38.5" >=</text>
<text x="2071.4" y="283.5" font-size="38.5" >0.5625</text>
<text x="2177.9" y="283.5" font-size="38.5" >,</text>
<text x="2197.4" y="283.5" font-size="38.5" font-style="italic">P</text>
<text x="2219.4" y="285.5" font-size="17.0" font-style="italic">1</text>
<text x="2230.4" y="283.5" font-size="38.5" >=</text>
<text x="2258.4" y="283.5" font-size="38.5" >0.0047</text>
<text x="2365.4" y="283.5" font-size="38.5" >**</text>
<text x="2006.4" y="319.2" font-size="38.5" font-style="italic">R</text>
<text x="2033.9" y="304.2" font-size="19.0" font-style="italic">2</text>
<text x="2031.4" y="321.2" font-size="19.0" font-style="italic">2</text>
<text x="2047.4" y="319.2" font-size="38.5" >=</text>
<text x="2071.4" y="319.2" font-size="38.5" >0.6084</text>
<text x="2177.9" y="319.2" font-size="38.5" >,</text>
<text x="2197.4" y="319.2" font-size="38.5" font-style="italic">P</text>
<text x="2219.4" y="321.2" font-size="17.0" font-style="italic">2</text>
<text x="2230.4" y="319.2" font-size="38.5" >=</text>
<text x="2258.4" y="319.2" font-size="38.5" >0.0027</text>
<text x="2365.4" y="319.2" font-size="38.5" >**</text>
<text x="225.6" y="1200.5" font-size="36.9" font-style="italic">R</text>
<text x="251.9" y="1186.1" font-size="18.2" font-style="italic">2</text>
<text x="249.5" y="1202.4" font-size="18.2" font-style="italic">1</text>
<text x="264.9" y="1200.5" font-size="36.9" >=</text>
<text x="287.9" y="1200.5" font-size="36.9" >0.6241</text>
<text x="389.9" y="1200.5" font-size="36.9" >,</text>
<text x="408.6" y="1200.5" font-size="36.9" font-style="italic">P</text>
<text x="429.7" y="1202.4" font-size="16.3" font-style="italic">1</text>
<text x="440.2" y="1200.5" font-size="36.9" >=</text>
<text x="467.0" y="1200.5" font-size="36.9" >0.0024</text>
<text x="569.5" y="1200.5" font-size="36.9" >**</text>
<text x="225.6" y="1237.1" font-size="36.9" font-style="italic">R</text>
<text x="251.9" y="1222.7" font-size="18.2" font-style="italic">2</text>
<text x="249.5" y="1239.0" font-size="18.2" font-style="italic">2</text>
<text x="264.9" y="1237.1" font-size="36.9" >=</text>
<text x="287.9" y="1237.1" font-size="36.9" >0.5184</text>
<text x="389.9" y="1237.1" font-size="36.9" >,</text>
<text x="408.6" y="1237.1" font-size="36.9" font-style="italic">P</text>
<text x="429.7" y="1239.0" font-size="16.3" font-style="italic">2</text>
<text x="440.2" y="1237.1" font-size="36.9" >=</text>
<text x="467.0" y="1237.1" font-size="36.9" >0.0088</text>
<text x="569.5" y="1237.1" font-size="36.9" >**</text>
<text x="2040.0" y="1219.4" font-size="37.2" font-style="italic">R</text>
<text x="2066.6" y="1204.9" font-size="18.4" font-style="italic">2</text>
<text x="2064.2" y="1221.3" font-size="18.4" font-style="italic">1</text>
<text x="2079.6" y="1219.4" font-size="37.2" >=</text>
<text x="2102.8" y="1219.4" font-size="37.2" >0.3481</text>
<text x="2205.7" y="1219.4" font-size="37.2" >,</text>
<text x="2224.5" y="1219.4" font-size="37.2" font-style="italic">P</text>
<text x="2245.8" y="1221.3" font-size="16.4" font-style="italic">1</text>
<text x="2256.4" y="1219.4" font-size="37.2" >=</text>
<text x="2283.4" y="1219.4" font-size="37.2" >0.0430</text>
<text x="2386.8" y="1219.4" font-size="37.2" >*</text>
<text x="2040.0" y="1255.0" font-size="37.2" font-style="italic">R</text>
<text x="2066.6" y="1240.5" font-size="18.4" font-style="italic">2</text>
<text x="2064.2" y="1256.9" font-size="18.4" font-style="italic">2</text>
<text x="2079.6" y="1255.0" font-size="37.2" >=</text>
<text x="2102.8" y="1255.0" font-size="37.2" >0.3249</text>
<text x="2205.7" y="1255.0" font-size="37.2" >,</text>
<text x="2224.5" y="1255.0" font-size="37.2" font-style="italic">P</text>
<text x="2245.8" y="1256.9" font-size="16.4" font-style="italic">2</text>
<text x="2256.4" y="1255.0" font-size="37.2" >=</text>
<text x="2283.4" y="1255.0" font-size="37.2" >0.0520</text>
</g>
<g id="legendA">
<line x1="182" y1="344.4" x2="218" y2="344.4" stroke="#0d4a95" stroke-width="6"/><circle cx="200" cy="344.4" r="9.6" fill="#0d4a95"/>
<text x="239" y="353" font-size="38.8" textLength="210" lengthAdjust="spacingAndGlyphs">1st order root</text>
<line x1="182" y1="389.5" x2="218" y2="389.5" stroke="#e60012" stroke-width="6"/><polygon points="200.5,376.5 189.5,396.5 211.5,396.5" fill="#e60012"/>
<text x="239" y="398" font-size="38.8" textLength="221" lengthAdjust="spacingAndGlyphs">2nd order root</text>
</g>
<g id="letters">
<text x="680.2" y="1007.2" font-size="24" text-anchor="middle" fill="#333">(A)</text>
<text x="1922.5" y="1018" font-size="37" fill="#222">(</text><text x="1937" y="1018.6" font-size="33.5">B</text><text x="1961" y="1018" font-size="37" fill="#222">)</text>
<text x="691.7" y="1923" font-size="34.5" text-anchor="middle">(C)</text>
<text x="1931.2" y="1915.7" font-size="34" text-anchor="middle">(D)</text>
</g>
<g id="ytitles" font-weight="bold">
<text transform="translate(36,806) rotate(-90)" font-size="40.5" textLength="479" lengthAdjust="spacing">Specific root length (m . g<tspan font-size="24" dy="-15">-1</tspan><tspan dy="15">)</tspan></text>
<text transform="translate(1272.3,728.5) rotate(-90)" font-size="38.4" textLength="257" lengthAdjust="spacing">Diameter (mm)</text>
<text transform="translate(34,1792) rotate(-90)" font-size="40" textLength="527" lengthAdjust="spacing">Specific surface area (cm<tspan font-size="22" dy="-16">2</tspan><tspan dy="16"> · g</tspan><tspan font-size="22" dy="-16">−1</tspan><tspan dy="16">)</tspan></text>
<text transform="translate(1285.7,1712) rotate(-90)" font-size="32" textLength="389" lengthAdjust="spacing">Root tissue density (g . cm<tspan font-size="19" dy="-13">-3</tspan><tspan dy="13">)</tspan></text>
</g>
<text x="990" y="2070.6" font-size="62.5" textLength="600" lengthAdjust="spacing">Total nitrogen (g . kg<tspan font-size="38" dy="-24">-1</tspan><tspan dy="24">)</tspan></text>
<g id="toplegend" font-size="43" stroke="#111" stroke-width="1.1">
<circle cx="122.3" cy="37.0" r="15.3" fill="#0a9a47" stroke="none"/>
<text x="173.5" y="49.2" textLength="426.5" lengthAdjust="spacing">1st order root of Suining</text>
<circle cx="123.8" cy="116.2" r="15.3" fill="#9e1b5e" stroke="none"/>
<text x="173.5" y="128.0" textLength="466.5" lengthAdjust="spacing">1st order root of Mianyang</text>
<circle cx="709.2" cy="38.0" r="15.3" fill="#0f9be8" stroke="none"/>
<text x="757.0" y="53.7" textLength="426" lengthAdjust="spacing">1st order root of Deyang</text>
<circle cx="708.6" cy="122.9" r="15.3" fill="#fff200" stroke="none"/>
<text x="760.7" y="140.7" textLength="448" lengthAdjust="spacing">1st order root of Guangan</text>
<polygon points="1405.7,18.6 1387.2,47.2 1423.5,47.2" fill="#0a9a47" stroke="none"/>
<text x="1456.0" y="54.3" textLength="427" lengthAdjust="spacing">2st order root of Suining</text>
<polygon points="1408.0,103.5 1387.7,138.1 1428.6,138.1" fill="#9e1b5e" stroke="none"/>
<text x="1456.0" y="150.0" textLength="470" lengthAdjust="spacing">2st order root of Mianyang</text>
<polygon points="1992.9,17.2 1972.9,51.5 2013.5,51.5" fill="#0f9be8" stroke="none"/>
<text x="2039.0" y="59.5" textLength="427" lengthAdjust="spacing">2st order root of Deyang</text>
<polygon points="1992.0,104.3 1971.5,139.5 2014.4,139.5" fill="#fff200" stroke="none"/>
<text x="2039.0" y="142.1" textLength="447" lengthAdjust="spacing">2st order root of Guangan</text>
</g>
</svg></body></html>
